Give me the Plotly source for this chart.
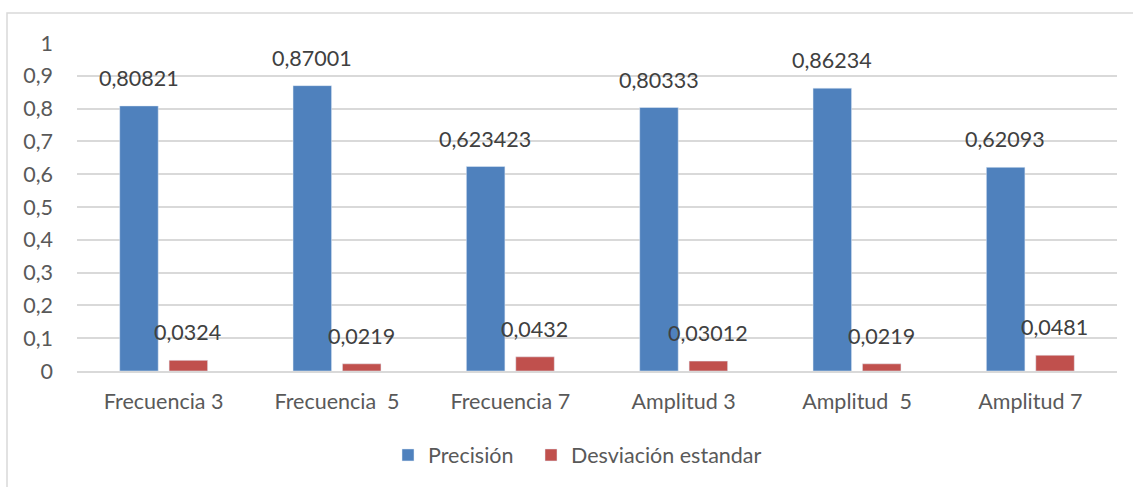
import plotly.graph_objects as go

categories = ["Frecuencia 3", "Frecuencia  5", "Frecuencia 7", "Amplitud 3", "Amplitud  5", "Amplitud 7"]
precision = [0.80821, 0.87001, 0.623423, 0.80333, 0.86234, 0.62093]
desviacion = [0.0324, 0.0219, 0.0432, 0.03012, 0.0219, 0.0481]
precision_labels = ["0,80821", "0,87001", "0,623423", "0,80333", "0,86234", "0,62093"]
desviacion_labels = ["0,0324", "0,0219", "0,0432", "0,03012", "0,0219", "0,0481"]
ytick_vals = [0, 0.1, 0.2, 0.3, 0.4, 0.5, 0.6, 0.7, 0.8, 0.9, 1]
ytick_text = ["0", "0,1", "0,2", "0,3", "0,4", "0,5", "0,6", "0,7", "0,8", "0,9", "1"]

FONT = "Lato"
FS = 21.5
TXT = "#595959"
BLUE = "#4F81BD"
RED = "#C0504D"

fig = go.Figure()
fig.add_trace(go.Bar(x=categories, y=precision, name="Precisión", marker_color=BLUE, legend="legend"))
fig.add_trace(go.Bar(x=categories, y=desviacion, name="Desviación estandar", marker_color=RED, legend="legend2"))

W, H = 1133, 487
L, R, T, B = 77, 16, 43, 116
pw, ph = W - L - R, H - T - B

annotations = []
for c, v, t in zip(categories, precision, precision_labels):
    annotations.append(dict(x=c, y=v, text=t, xref="x", yref="y", showarrow=False,
                            xshift=-25, yshift=13, yanchor="bottom",
                            font=dict(family=FONT, size=FS, color="#404040")))
for c, v, t in zip(categories, desviacion, desviacion_labels):
    annotations.append(dict(x=c, y=v, text=t, xref="x", yref="y", showarrow=False,
                            xshift=24, yshift=13, yanchor="bottom",
                            font=dict(family=FONT, size=FS, color="#404040")))

leg_common = dict(orientation="h", xanchor="left", y=-0.256, yanchor="middle",
                  font=dict(family=FONT, size=FS, color=TXT), itemwidth=30,
                  bgcolor="rgba(0,0,0,0)")

fig.update_layout(
    width=W, height=H,
    margin=dict(l=L, r=R, t=T, b=B),
    paper_bgcolor="white", plot_bgcolor="white",
    barmode="group", bargap=0.43, bargroupgap=0.22,
    font=dict(family=FONT, size=FS, color=TXT),
    showlegend=True,
    legend=dict(x=(388 - L) / pw, **leg_common),
    legend2=dict(x=(531 - L) / pw, **leg_common),
    annotations=annotations,
    shapes=[dict(type="rect", xref="paper", yref="paper",
                 x0=(7 - L) / pw, x1=(W + 10 - L) / pw,
                 y0=(ph + T - H - 10) / ph, y1=(ph + T - 13) / ph,
                 line=dict(color="#D9D9D9", width=1.5), fillcolor="rgba(0,0,0,0)", layer="below")],
)
fig.update_yaxes(range=[0, 1], tickvals=ytick_vals, ticktext=ytick_text,
                 showgrid=True, gridcolor="#D9D9D9", gridwidth=1.5,
                 zeroline=False, showline=False, ticks="", ticklabelstandoff=23,
                 tickfont=dict(family=FONT, size=FS, color=TXT))
fig.update_xaxes(showline=True, linecolor="#D9D9D9", linewidth=1.5, ticks="",
                 ticklabelstandoff=10, tickfont=dict(family=FONT, size=FS, color=TXT))

fig.write_html("out.html")
